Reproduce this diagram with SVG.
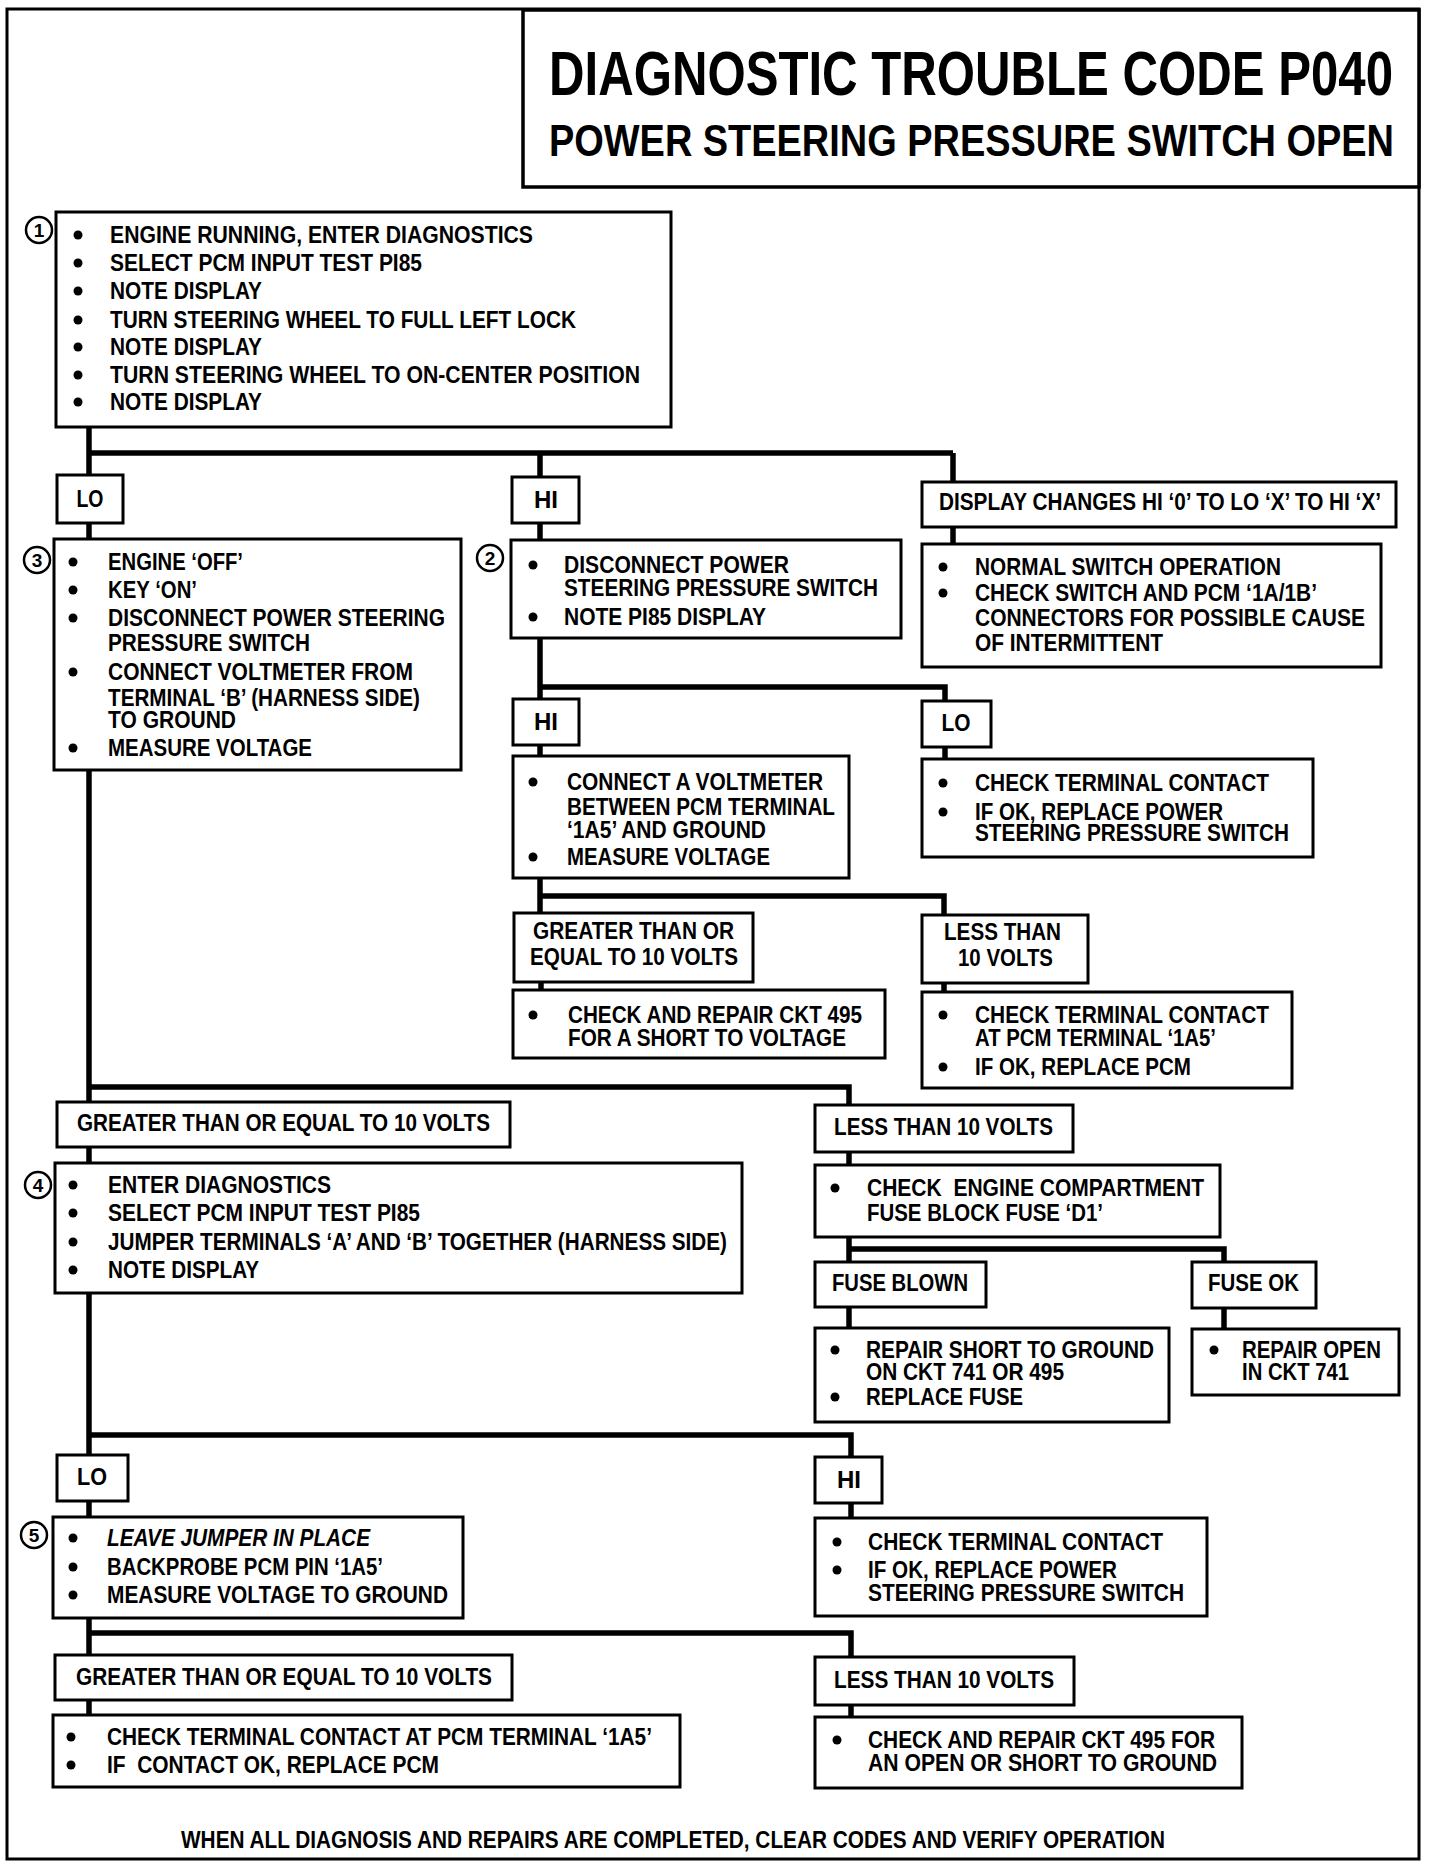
<svg xmlns="http://www.w3.org/2000/svg" width="1440" height="1870" viewBox="0 0 1440 1870">
<style>
.bx{fill:#fff;stroke:#000;stroke-width:3}
.t{font-family:"Liberation Sans",Arial,sans-serif;font-weight:bold;font-size:23px;fill:#000}
.ti{font-family:"Liberation Sans",Arial,sans-serif;font-weight:bold;font-style:italic;font-size:23px;fill:#000}
.m{text-anchor:middle}
.b{fill:#000}
.cn{fill:none;stroke:#000;stroke-width:5.5}
.cr{fill:#fff;stroke:#000;stroke-width:2.5}
.n{font-family:"Liberation Sans",Arial,sans-serif;font-weight:bold;font-size:19px;text-anchor:middle;fill:#000}
</style>
<rect x="0" y="0" width="1440" height="1870" fill="#fff"/>
<rect x="7" y="9" width="1412" height="1850" fill="none" stroke="#000" stroke-width="3"/>

<g id="title">
<rect x="523" y="10" width="896" height="177" fill="#fff" stroke="#000" stroke-width="3.5"/>
<text x="549" y="95" font-family="Liberation Sans,Arial,sans-serif" font-weight="bold" font-size="63" textLength="844" lengthAdjust="spacingAndGlyphs">DIAGNOSTIC TROUBLE CODE P040</text>
<text x="549" y="156" font-family="Liberation Sans,Arial,sans-serif" font-weight="bold" font-size="44" textLength="845" lengthAdjust="spacingAndGlyphs">POWER STEERING PRESSURE SWITCH OPEN</text>
</g>

<g id="connectors">
<path class="cn" d="M89 427 V475"/>
<path class="cn" d="M89 453 H953"/>
<path class="cn" d="M540 453 V477"/>
<path class="cn" d="M953 453 V482"/>
<path class="cn" d="M89 523 V539"/>
<path class="cn" d="M540 523 V540"/>
<path class="cn" d="M953 527 V544"/>
<path class="cn" d="M89 770 V1102"/>
<path class="cn" d="M540 638 V699"/>
<path class="cn" d="M540 687 H945 V701"/>
<path class="cn" d="M540 745 V756"/>
<path class="cn" d="M945 747 V759"/>
<path class="cn" d="M540 878 V913"/>
<path class="cn" d="M540 896 H944 V915"/>
<path class="cn" d="M541 982 V990"/>
<path class="cn" d="M944 983 V992"/>
<path class="cn" d="M89 1087 H849 V1105"/>
<path class="cn" d="M89 1147 V1163"/>
<path class="cn" d="M849 1152 V1165"/>
<path class="cn" d="M849 1237 V1262"/>
<path class="cn" d="M849 1249 H1224 V1262"/>
<path class="cn" d="M849 1307 V1328"/>
<path class="cn" d="M1224 1308 V1329"/>
<path class="cn" d="M89 1293 V1455"/>
<path class="cn" d="M89 1435 H851 V1457"/>
<path class="cn" d="M89 1501 V1517"/>
<path class="cn" d="M851 1503 V1518"/>
<path class="cn" d="M89 1618 V1655"/>
<path class="cn" d="M89 1633 H851 V1657"/>
<path class="cn" d="M89 1700 V1715"/>
<path class="cn" d="M851 1705 V1717"/>
</g>

<g id="step1">
<rect class="bx" x="56" y="212" width="615" height="215"/>
<circle class="cr" cx="39" cy="230" r="13"/><text class="n" x="39" y="237">1</text>
<circle class="b" cx="78" cy="235" r="4.5"/><text class="t" x="110" y="243" textLength="423" lengthAdjust="spacingAndGlyphs">ENGINE RUNNING, ENTER DIAGNOSTICS</text>
<circle class="b" cx="78" cy="263" r="4.5"/><text class="t" x="110" y="271" textLength="312" lengthAdjust="spacingAndGlyphs">SELECT PCM INPUT TEST PI85</text>
<circle class="b" cx="78" cy="291" r="4.5"/><text class="t" x="110" y="299" textLength="152" lengthAdjust="spacingAndGlyphs">NOTE DISPLAY</text>
<circle class="b" cx="78" cy="320" r="4.5"/><text class="t" x="110" y="328" textLength="466" lengthAdjust="spacingAndGlyphs">TURN STEERING WHEEL TO FULL LEFT LOCK</text>
<circle class="b" cx="78" cy="347" r="4.5"/><text class="t" x="110" y="355" textLength="152" lengthAdjust="spacingAndGlyphs">NOTE DISPLAY</text>
<circle class="b" cx="78" cy="375" r="4.5"/><text class="t" x="110" y="383" textLength="530" lengthAdjust="spacingAndGlyphs">TURN STEERING WHEEL TO ON-CENTER POSITION</text>
<circle class="b" cx="78" cy="402" r="4.5"/><text class="t" x="110" y="410" textLength="152" lengthAdjust="spacingAndGlyphs">NOTE DISPLAY</text>
</g>

<g id="lo1">
<rect class="bx" x="57" y="475" width="66" height="48"/>
<text class="t m" x="90" y="507" textLength="27" lengthAdjust="spacingAndGlyphs">LO</text>
</g>
<g id="hi1">
<rect class="bx" x="512" y="477" width="67" height="46"/>
<text class="t m" x="546" y="508" textLength="24" lengthAdjust="spacingAndGlyphs">HI</text>
</g>
<g id="display-changes">
<rect class="bx" x="922" y="482" width="474" height="45"/>
<text class="t" x="939" y="510" textLength="442" lengthAdjust="spacingAndGlyphs">DISPLAY CHANGES HI ‘0’ TO LO ‘X’ TO HI ‘X’</text>
</g>

<g id="step3">
<rect class="bx" x="54" y="539" width="407" height="231"/>
<circle class="cr" cx="37" cy="560" r="13"/><text class="n" x="37" y="567">3</text>
<circle class="b" cx="73" cy="562" r="4.5"/><text class="t" x="108" y="570" textLength="135" lengthAdjust="spacingAndGlyphs">ENGINE ‘OFF’</text>
<circle class="b" cx="73" cy="590" r="4.5"/><text class="t" x="108" y="598" textLength="89" lengthAdjust="spacingAndGlyphs">KEY ‘ON’</text>
<circle class="b" cx="73" cy="618" r="4.5"/><text class="t" x="108" y="626" textLength="337" lengthAdjust="spacingAndGlyphs">DISCONNECT POWER STEERING</text>
<text class="t" x="108" y="651" textLength="202" lengthAdjust="spacingAndGlyphs">PRESSURE SWITCH</text>
<circle class="b" cx="73" cy="672" r="4.5"/><text class="t" x="108" y="680" textLength="305" lengthAdjust="spacingAndGlyphs">CONNECT VOLTMETER FROM</text>
<text class="t" x="108" y="706" textLength="312" lengthAdjust="spacingAndGlyphs">TERMINAL ‘B’ (HARNESS SIDE)</text>
<text class="t" x="108" y="728" textLength="128" lengthAdjust="spacingAndGlyphs">TO GROUND</text>
<circle class="b" cx="73" cy="748" r="4.5"/><text class="t" x="108" y="756" textLength="204" lengthAdjust="spacingAndGlyphs">MEASURE VOLTAGE</text>
</g>

<g id="step2">
<rect class="bx" x="511" y="540" width="390" height="98"/>
<circle class="cr" cx="490" cy="558" r="13"/><text class="n" x="490" y="565">2</text>
<circle class="b" cx="533" cy="565" r="4.5"/><text class="t" x="564" y="573" textLength="225" lengthAdjust="spacingAndGlyphs">DISCONNECT POWER</text>
<text class="t" x="564" y="596" textLength="314" lengthAdjust="spacingAndGlyphs">STEERING PRESSURE SWITCH</text>
<circle class="b" cx="533" cy="617" r="4.5"/><text class="t" x="564" y="625" textLength="202" lengthAdjust="spacingAndGlyphs">NOTE PI85 DISPLAY</text>
</g>

<g id="normal-op">
<rect class="bx" x="922" y="544" width="459" height="123"/>
<circle class="b" cx="943" cy="567" r="4.5"/><text class="t" x="975" y="575" textLength="306" lengthAdjust="spacingAndGlyphs">NORMAL SWITCH OPERATION</text>
<circle class="b" cx="943" cy="593" r="4.5"/><text class="t" x="975" y="601" textLength="342" lengthAdjust="spacingAndGlyphs">CHECK SWITCH AND PCM ‘1A/1B’</text>
<text class="t" x="975" y="626" textLength="390" lengthAdjust="spacingAndGlyphs">CONNECTORS FOR POSSIBLE CAUSE</text>
<text class="t" x="975" y="651" textLength="188" lengthAdjust="spacingAndGlyphs">OF INTERMITTENT</text>
</g>

<g id="hi2">
<rect class="bx" x="513" y="699" width="66" height="46"/>
<text class="t m" x="546" y="730" textLength="24" lengthAdjust="spacingAndGlyphs">HI</text>
</g>
<g id="lo2">
<rect class="bx" x="922" y="701" width="69" height="46"/>
<text class="t m" x="956" y="731" textLength="29" lengthAdjust="spacingAndGlyphs">LO</text>
</g>

<g id="voltmeter-1a5">
<rect class="bx" x="513" y="756" width="336" height="122"/>
<circle class="b" cx="533" cy="782" r="4.5"/><text class="t" x="567" y="790" textLength="256" lengthAdjust="spacingAndGlyphs">CONNECT A VOLTMETER</text>
<text class="t" x="567" y="815" textLength="268" lengthAdjust="spacingAndGlyphs">BETWEEN PCM TERMINAL</text>
<text class="t" x="567" y="838" textLength="199" lengthAdjust="spacingAndGlyphs">‘1A5’ AND GROUND</text>
<circle class="b" cx="533" cy="857" r="4.5"/><text class="t" x="567" y="865" textLength="203" lengthAdjust="spacingAndGlyphs">MEASURE VOLTAGE</text>
</g>

<g id="check-switch">
<rect class="bx" x="922" y="759" width="391" height="98"/>
<circle class="b" cx="943" cy="783" r="4.5"/><text class="t" x="975" y="791" textLength="294" lengthAdjust="spacingAndGlyphs">CHECK TERMINAL CONTACT</text>
<circle class="b" cx="943" cy="812" r="4.5"/><text class="t" x="975" y="820" textLength="248" lengthAdjust="spacingAndGlyphs">IF OK, REPLACE POWER</text>
<text class="t" x="975" y="841" textLength="314" lengthAdjust="spacingAndGlyphs">STEERING PRESSURE SWITCH</text>
</g>

<g id="ge10-a">
<rect class="bx" x="514" y="913" width="239" height="69"/>
<text class="t" x="533" y="939" textLength="201" lengthAdjust="spacingAndGlyphs">GREATER THAN OR</text>
<text class="t" x="530" y="965" textLength="208" lengthAdjust="spacingAndGlyphs">EQUAL TO 10 VOLTS</text>
</g>
<g id="lt10-a">
<rect class="bx" x="922" y="915" width="166" height="68"/>
<text class="t" x="944" y="940" textLength="117" lengthAdjust="spacingAndGlyphs">LESS THAN</text>
<text class="t" x="958" y="966" textLength="95" lengthAdjust="spacingAndGlyphs">10 VOLTS</text>
</g>

<g id="short-voltage">
<rect class="bx" x="513" y="990" width="372" height="68"/>
<circle class="b" cx="533" cy="1015" r="4.5"/><text class="t" x="568" y="1023" textLength="294" lengthAdjust="spacingAndGlyphs">CHECK AND REPAIR CKT 495</text>
<text class="t" x="568" y="1046" textLength="278" lengthAdjust="spacingAndGlyphs">FOR A SHORT TO VOLTAGE</text>
</g>

<g id="check-pcm">
<rect class="bx" x="922" y="992" width="370" height="96"/>
<circle class="b" cx="943" cy="1015" r="4.5"/><text class="t" x="975" y="1023" textLength="294" lengthAdjust="spacingAndGlyphs">CHECK TERMINAL CONTACT</text>
<text class="t" x="975" y="1046" textLength="241" lengthAdjust="spacingAndGlyphs">AT PCM TERMINAL ‘1A5’</text>
<circle class="b" cx="943" cy="1067" r="4.5"/><text class="t" x="975" y="1075" textLength="216" lengthAdjust="spacingAndGlyphs">IF OK, REPLACE PCM</text>
</g>

<g id="ge10-b">
<rect class="bx" x="57" y="1102" width="453" height="45"/>
<text class="t" x="77" y="1131" textLength="413" lengthAdjust="spacingAndGlyphs">GREATER THAN OR EQUAL TO 10 VOLTS</text>
</g>
<g id="lt10-b">
<rect class="bx" x="815" y="1105" width="258" height="47"/>
<text class="t" x="834" y="1135" textLength="219" lengthAdjust="spacingAndGlyphs">LESS THAN 10 VOLTS</text>
</g>

<g id="step4">
<rect class="bx" x="55" y="1163" width="687" height="130"/>
<circle class="cr" cx="38" cy="1185" r="13"/><text class="n" x="38" y="1192">4</text>
<circle class="b" cx="73" cy="1185" r="4.5"/><text class="t" x="108" y="1193" textLength="223" lengthAdjust="spacingAndGlyphs">ENTER DIAGNOSTICS</text>
<circle class="b" cx="73" cy="1213" r="4.5"/><text class="t" x="108" y="1221" textLength="312" lengthAdjust="spacingAndGlyphs">SELECT PCM INPUT TEST PI85</text>
<circle class="b" cx="73" cy="1242" r="4.5"/><text class="t" x="108" y="1250" textLength="619" lengthAdjust="spacingAndGlyphs">JUMPER TERMINALS ‘A’ AND ‘B’ TOGETHER (HARNESS SIDE)</text>
<circle class="b" cx="73" cy="1270" r="4.5"/><text class="t" x="108" y="1278" textLength="151" lengthAdjust="spacingAndGlyphs">NOTE DISPLAY</text>
</g>

<g id="check-fuse">
<rect class="bx" x="815" y="1165" width="405" height="72"/>
<circle class="b" cx="835" cy="1188" r="4.5"/><text class="t" x="867" y="1196" textLength="337" lengthAdjust="spacingAndGlyphs" xml:space="preserve">CHECK  ENGINE COMPARTMENT</text>
<text class="t" x="867" y="1221" textLength="236" lengthAdjust="spacingAndGlyphs">FUSE BLOCK FUSE ‘D1’</text>
</g>

<g id="fuse-blown">
<rect class="bx" x="815" y="1262" width="171" height="45"/>
<text class="t" x="832" y="1291" textLength="136" lengthAdjust="spacingAndGlyphs">FUSE BLOWN</text>
</g>
<g id="fuse-ok">
<rect class="bx" x="1192" y="1262" width="124" height="46"/>
<text class="t" x="1208" y="1291" textLength="91" lengthAdjust="spacingAndGlyphs">FUSE OK</text>
</g>

<g id="repair-short">
<rect class="bx" x="815" y="1328" width="354" height="94"/>
<circle class="b" cx="835" cy="1350" r="4.5"/><text class="t" x="866" y="1358" textLength="288" lengthAdjust="spacingAndGlyphs">REPAIR SHORT TO GROUND</text>
<text class="t" x="866" y="1380" textLength="198" lengthAdjust="spacingAndGlyphs">ON CKT 741 OR 495</text>
<circle class="b" cx="835" cy="1397" r="4.5"/><text class="t" x="866" y="1405" textLength="157" lengthAdjust="spacingAndGlyphs">REPLACE FUSE</text>
</g>

<g id="repair-open">
<rect class="bx" x="1192" y="1329" width="207" height="66"/>
<circle class="b" cx="1214" cy="1350" r="4.5"/><text class="t" x="1242" y="1358" textLength="139" lengthAdjust="spacingAndGlyphs">REPAIR OPEN</text>
<text class="t" x="1242" y="1380" textLength="107" lengthAdjust="spacingAndGlyphs">IN CKT 741</text>
</g>

<g id="lo3">
<rect class="bx" x="57" y="1455" width="71" height="46"/>
<text class="t m" x="92" y="1485" textLength="30" lengthAdjust="spacingAndGlyphs">LO</text>
</g>
<g id="hi3">
<rect class="bx" x="815" y="1457" width="67" height="46"/>
<text class="t m" x="849" y="1488" textLength="24" lengthAdjust="spacingAndGlyphs">HI</text>
</g>

<g id="step5">
<rect class="bx" x="53" y="1517" width="410" height="101"/>
<circle class="cr" cx="34" cy="1535" r="13"/><text class="n" x="34" y="1542">5</text>
<circle class="b" cx="73" cy="1538" r="4.5"/><text class="ti" x="107" y="1546" textLength="263" lengthAdjust="spacingAndGlyphs">LEAVE JUMPER IN PLACE</text>
<circle class="b" cx="73" cy="1567" r="4.5"/><text class="t" x="107" y="1575" textLength="276" lengthAdjust="spacingAndGlyphs">BACKPROBE PCM PIN ‘1A5’</text>
<circle class="b" cx="73" cy="1595" r="4.5"/><text class="t" x="107" y="1603" textLength="341" lengthAdjust="spacingAndGlyphs">MEASURE VOLTAGE TO GROUND</text>
</g>

<g id="check-switch-2">
<rect class="bx" x="815" y="1518" width="392" height="98"/>
<circle class="b" cx="837" cy="1542" r="4.5"/><text class="t" x="868" y="1550" textLength="295" lengthAdjust="spacingAndGlyphs">CHECK TERMINAL CONTACT</text>
<circle class="b" cx="837" cy="1570" r="4.5"/><text class="t" x="868" y="1578" textLength="249" lengthAdjust="spacingAndGlyphs">IF OK, REPLACE POWER</text>
<text class="t" x="868" y="1601" textLength="316" lengthAdjust="spacingAndGlyphs">STEERING PRESSURE SWITCH</text>
</g>

<g id="ge10-c">
<rect class="bx" x="55" y="1655" width="457" height="45"/>
<text class="t" x="76" y="1685" textLength="416" lengthAdjust="spacingAndGlyphs">GREATER THAN OR EQUAL TO 10 VOLTS</text>
</g>
<g id="lt10-c">
<rect class="bx" x="815" y="1657" width="259" height="48"/>
<text class="t" x="834" y="1688" textLength="220" lengthAdjust="spacingAndGlyphs">LESS THAN 10 VOLTS</text>
</g>

<g id="check-pcm-2">
<rect class="bx" x="53" y="1715" width="627" height="72"/>
<circle class="b" cx="71" cy="1737" r="4.5"/><text class="t" x="107" y="1745" textLength="545" lengthAdjust="spacingAndGlyphs">CHECK TERMINAL CONTACT AT PCM TERMINAL ‘1A5’</text>
<circle class="b" cx="71" cy="1765" r="4.5"/><text class="t" x="107" y="1773" textLength="332" lengthAdjust="spacingAndGlyphs" xml:space="preserve">IF  CONTACT OK, REPLACE PCM</text>
</g>

<g id="repair-495">
<rect class="bx" x="815" y="1717" width="427" height="71"/>
<circle class="b" cx="837" cy="1740" r="4.5"/><text class="t" x="868" y="1748" textLength="347" lengthAdjust="spacingAndGlyphs">CHECK AND REPAIR CKT 495 FOR</text>
<text class="t" x="868" y="1771" textLength="349" lengthAdjust="spacingAndGlyphs">AN OPEN OR SHORT TO GROUND</text>
</g>

<g id="footer">
<text class="t" x="181" y="1848" font-size="22" textLength="984" lengthAdjust="spacingAndGlyphs">WHEN ALL DIAGNOSIS AND REPAIRS ARE COMPLETED, CLEAR CODES AND VERIFY OPERATION</text>
</g>
</svg>
